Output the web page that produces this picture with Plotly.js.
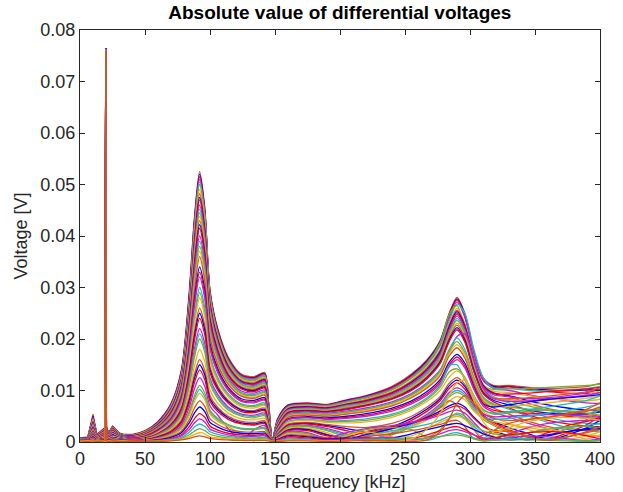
<!DOCTYPE html>
<html>
<head>
<meta charset="utf-8">
<script src="https://cdn.plot.ly/plotly-3.0.1.min.js"></script>
<style>html,body{margin:0;padding:0;background:#fff;}#chart{width:623px;height:492px;}</style>
</head>
<body>
<div id="chart"></div>
<script>
// Frequency grid [kHz]
const freq = [0,6,10,13,19.3, 19.8,20.3,22,25,30, 40,50,60,70,78, 84,88,92,96,100, 106,114,124,134,142, 145,148,152,160,175, 190,205,220,240,255, 267,277,284,290,296, 303,310,318,330,345, 360,375,390,400];

// Absolute differential voltages, values in mV
const c01 = [0.8,1.0,5.4,1.5,2.8, 76.5,3.0,1.8,3.1,1.8, 1.5,2.2,4.0,7.5,14.0, 29.0,43.5,52.5,45.5,29.5, 22.0,16.5,13.2,12.7,13.5, 8.0,0.5,4.5,7.2,7.6, 7.3,8.2,9.0,10.8,13.2, 16.0,19.7,25.0,28.1,25.0, 17.5,12.5,11.0,11.0,10.6, 10.4,10.5,10.8,11.4];
const d01 = [0.7,0.9,5.0,1.4,2.7, 76.2,2.9,1.7,3.0,1.7, 1.4,2.1,3.9,7.3,13.8, 28.5,43.0,52.0,45.0,29.2, 21.7,16.2,13.0,12.5,13.3, 7.7,0.4,4.4,7.1,7.5, 7.2,8.1,8.9,10.6,13.0, 15.8,19.5,24.8,27.8,24.8, 17.3,12.2,10.8,10.8,10.4, 10.1,10.0,10.1,10.2];
const c02 = [0.7,0.9,4.8,1.4,2.6, 76.0,2.8,1.7,2.9,1.7, 1.4,2.1,3.8,7.2,13.5, 28.0,42.5,51.5,44.5,29.0, 21.5,16.0,12.9,12.4,13.2, 7.5,0.4,4.2,7.0,7.4, 7.2,8.0,8.8,10.5,12.8, 15.5,19.3,24.6,27.6,24.4, 17.0,12.0,10.6,10.7,10.2, 9.8,9.5,9.4,9.6];
const d02 = [0.8,0.9,4.6,1.3,2.6, 74.0,2.8,1.6,2.9,1.7, 1.3,2.0,3.7,7.1,13.3, 27.5,42.0,51.0,44.2,28.7, 21.2,15.8,12.7,12.2,13.0, 7.3,0.5,4.1,6.9,7.3, 7.1,7.9,8.7,10.3,12.6, 15.2,18.9,24.0,27.2,24.2, 17.2,12.2,10.4,10.0,9.2, 8.5,8.0,7.6,7.5];
const c03 = [0.8,0.9,4.5,1.3,2.5, 75.0,2.7,1.6,2.8,1.6, 1.3,2.0,3.6,7.0,13.0, 27.0,41.5,50.5,44.0,28.5, 21.0,15.7,12.6,12.1,12.9, 7.2,0.6,4.0,6.8,7.2, 7.0,7.8,8.6,10.2,12.4, 15.0,18.6,23.5,26.8,25.0, 18.0,12.6,10.5,10.4,10.0, 9.9,10.1,10.4,10.8];
const d03 = [0.6,0.8,4.4,1.3,2.5, 76.4,2.7,1.6,2.8,1.6, 1.3,2.0,3.6,6.9,12.9, 26.7,41.0,50.0,43.5,28.2, 20.8,15.5,12.4,11.9,12.7, 7.1,0.3,3.9,6.7,7.1, 6.9,7.7,8.5,10.1,12.5, 15.3,19.2,24.8,26.5,22.0, 15.2,11.0,10.2,10.3,10.4, 10.6,10.8,11.0,11.2];
const c04 = [0.6,0.8,4.2,1.2,2.4, 76.3,2.6,1.5,2.7,1.5, 1.2,1.9,3.5,6.7,12.6, 26.2,40.0,49.0,42.5,27.5, 20.4,15.2,12.2,11.7,12.5, 7.0,0.3,3.8,6.6,7.0, 6.8,7.5,8.3,9.8,12.0, 14.6,18.0,23.0,26.0,23.0, 16.2,11.3,9.9,9.6,9.0, 8.5,8.2,8.0,8.3];
const d04 = [0.7,0.8,4.0,1.2,2.4, 68.0,2.5,1.5,2.7,1.5, 1.2,1.9,3.5,6.6,12.4, 25.8,39.4,48.2,41.8,27.1, 20.1,15.0,12.0,11.5,12.3, 6.9,0.4,3.7,6.5,6.9, 6.7,7.4,8.2,9.7,11.8, 14.4,17.8,22.7,25.6,22.8, 16.0,11.1,9.6,8.8,7.5, 6.5,5.8,5.3,5.0];
const c05 = [0.7,0.8,3.9,1.2,2.3, 60.0,2.5,1.5,2.6,1.5, 1.2,1.8,3.4,6.5,12.2, 25.4,38.8,47.5,41.2,26.7, 19.8,14.7,11.8,11.3,12.1, 6.8,0.5,3.6,6.4,6.8, 6.6,7.3,8.0,9.5,11.6, 14.1,17.5,22.4,25.3,22.5, 15.8,11.0,9.5,9.0,8.0, 7.2,6.6,6.2,6.0];
const d05 = [0.5,0.7,3.8,1.1,2.3, 76.5,2.4,1.4,2.6,1.4, 1.1,1.8,3.3,6.4,12.0, 25.0,38.3,47.0,40.6,26.3, 19.5,14.5,11.6,11.2,11.9, 6.6,0.2,3.5,6.3,6.7, 6.5,7.2,7.9,9.4,11.4, 13.9,17.2,22.0,24.9,22.2, 15.5,10.8,9.4,9.3,9.5, 9.8,10.0,10.3,10.6];
const c06 = [0.5,0.7,3.6,1.1,2.2, 76.4,2.4,1.4,2.5,1.4, 1.1,1.7,3.2,6.3,11.8, 24.6,37.6,46.0,39.9,25.9, 19.2,14.3,11.5,11.0,11.7, 6.5,0.2,3.4,6.2,6.6, 6.4,7.1,7.7,9.2,11.2, 13.7,16.9,21.6,24.5,21.8, 15.3,10.6,9.2,8.8,8.4, 8.6,9.0,9.6,10.2];
const d06 = [0.6,0.7,3.4,1.0,2.1, 58.0,2.3,1.4,2.4,1.4, 1.0,1.7,3.2,6.1,11.6, 24.2,36.9,45.2,39.2,25.4, 18.9,14.0,11.3,10.8,11.5, 6.4,0.4,3.3,6.1,6.5, 6.3,7.0,7.6,9.0,11.0, 13.4,16.6,21.2,24.0,21.4, 15.0,10.4,8.8,7.6,6.0, 4.8,4.0,3.6,3.5];
const c07 = [0.6,0.7,3.3,1.0,2.0, 50.0,2.3,1.3,2.4,1.4, 1.0,1.6,3.1,6.0,11.4, 23.8,36.3,44.5,38.6,25.0, 18.6,13.8,11.1,10.6,11.3, 6.3,0.4,3.2,6.0,6.4, 6.2,6.8,7.5,8.9,10.8, 13.2,16.3,20.9,23.6,21.0, 14.7,10.2,8.7,8.0,7.0, 6.2,5.4,4.8,4.4];
const d07 = [0.5,0.6,3.1,1.0,2.0, 76.3,2.2,1.3,2.3,1.3, 1.0,1.6,3.0,5.9,11.2, 23.4,35.7,43.8,38.0,24.6, 18.3,13.6,10.9,10.4,11.1, 6.2,0.3,3.1,5.9,6.3, 6.1,6.7,7.3,8.7,10.6, 12.9,16.0,20.5,23.1,20.6, 14.5,10.0,8.6,8.2,8.0, 8.2,8.6,9.2,10.0];
const c08 = [0.5,0.6,3.0,1.0,1.9, 76.5,2.2,1.3,2.3,1.3, 1.0,1.5,3.0,5.8,11.0, 23.0,35.0,43.0,37.3,24.2, 18.0,13.3,10.7,10.2,10.9, 6.1,0.3,3.0,5.8,6.2, 6.0,6.6,7.2,8.6,10.4, 12.7,15.8,20.2,22.7,20.2, 14.2,9.8,8.5,8.4,8.6, 8.9,9.3,9.8,10.5];
const d08 = [0.6,0.7,2.9,0.9,1.8, 42.0,2.1,1.2,2.2,1.3, 0.9,1.5,2.9,5.7,10.8, 22.6,34.4,42.2,36.6,23.7, 17.6,13.0,10.5,10.0,10.7, 6.0,0.5,2.9,5.7,6.1, 5.9,6.4,7.1,8.4,10.2, 12.5,15.5,19.8,22.2,19.8, 13.9,9.6,8.1,7.2,6.2, 5.6,5.4,5.5,5.8];
const c09 = [0.6,0.7,2.8,0.9,1.8, 45.0,2.1,1.2,2.2,1.3, 0.9,1.5,2.9,5.6,10.6, 22.2,33.8,41.5,36.0,23.3, 17.3,12.8,10.3,9.8,10.5, 5.9,0.5,2.8,5.6,6.0, 5.8,6.3,7.0,8.3,10.0, 12.3,15.2,19.5,21.8,19.4, 13.6,9.4,7.8,6.6,5.2, 4.2,3.5,3.1,3.0];
const c10 = [0.5,0.6,2.6,0.9,1.7, 70.0,2.0,1.2,2.1,1.2, 0.9,1.4,2.8,5.4,10.2, 21.4,32.6,40.0,34.7,22.5, 16.7,12.4,9.9,9.5,10.1, 5.7,0.2,2.6,5.4,5.8, 5.6,6.0,6.6,7.8,9.4, 11.5,14.0,17.5,20.5,21.0, 16.0,10.5,8.4,7.9,8.0, 8.3,8.7,9.1,9.6];
const d09 = [0.5,0.6,2.5,0.8,1.6, 76.5,1.9,1.1,2.0,1.2, 0.8,1.3,2.7,5.2,10.0, 20.8,31.8,39.0,33.8,21.9, 16.3,12.1,9.6,9.2,9.8, 5.5,0.3,2.5,5.2,5.6, 5.4,5.8,6.4,7.6,9.2, 11.3,13.9,18.0,20.2,18.0, 12.6,8.8,7.4,6.4,5.0, 3.8,2.8,2.2,2.0];
const c11 = [0.6,0.7,2.4,0.8,1.6, 35.0,1.9,1.1,2.0,1.2, 0.8,1.3,2.6,5.1,9.7, 20.3,31.0,38.0,33.0,21.4, 15.9,11.8,9.4,9.0,9.6, 5.4,0.4,2.5,5.1,5.5, 5.3,5.7,6.3,7.5,9.1, 11.1,13.7,17.7,19.5,17.4, 12.2,8.5,7.2,6.8,6.4, 6.2,6.0,6.1,6.4];
const d10 = [0.6,0.6,2.3,0.8,1.5, 52.0,1.8,1.1,1.9,1.1, 0.8,1.2,2.5,4.9,9.4, 19.8,30.2,37.0,32.1,20.8, 15.4,11.5,9.1,8.7,9.3, 5.2,0.4,2.4,4.9,5.3, 5.1,5.5,6.1,7.2,8.8, 10.8,13.3,17.2,18.9,16.9, 11.8,8.2,7.0,6.9,7.2, 7.6,8.0,8.5,9.0];
const c12 = [0.5,0.6,2.2,0.8,1.5, 76.2,1.8,1.1,1.9,1.1, 0.8,1.2,2.5,4.8,9.2, 19.3,29.4,36.0,31.2,20.2, 15.0,11.2,8.9,8.5,9.1, 5.1,0.3,2.3,4.8,5.2, 5.0,5.4,5.9,7.0,8.6, 10.5,12.9,16.7,18.3,16.3, 11.4,7.9,6.6,5.4,4.0, 3.0,2.4,2.2,2.4];
const c13 = [0.6,0.6,2.0,0.7,1.4, 55.0,1.7,1.0,1.8,1.1, 0.7,1.1,2.3,4.5,8.7, 18.2,27.8,34.0,29.5,19.1, 14.2,10.6,8.4,8.1,8.6, 4.8,0.5,2.1,4.5,4.9, 4.7,5.0,5.5,6.6,8.0, 9.8,12.1,15.5,17.0,15.3, 10.8,7.5,6.8,7.2,7.8, 8.3,8.6,8.9,9.2];
const d11 = [0.5,0.6,2.0,0.7,1.4, 76.4,1.6,1.0,1.7,1.0, 0.7,1.1,2.2,4.4,8.4, 17.6,27.0,33.0,28.6,18.5, 13.8,10.3,8.1,7.8,8.3, 4.6,0.3,2.0,4.4,4.8, 4.5,4.8,5.2,6.3,7.7, 9.4,11.7,15.0,16.5,14.8, 10.5,7.3,6.2,5.8,5.6, 5.4,5.0,4.6,4.2];
const c14 = [0.4,0.5,1.9,0.7,1.3, 76.5,1.6,1.0,1.7,1.0, 0.7,1.0,2.1,4.3,8.2, 17.1,26.2,32.0,27.8,18.0, 13.4,10.0,7.9,7.6,8.1, 4.5,0.2,2.0,4.3,4.7, 4.4,4.6,5.0,6.0,7.4, 9.1,11.3,14.6,16.0,14.4, 10.2,7.0,5.8,4.8,3.6, 2.6,1.8,1.3,1.0];
const c15 = [0.5,0.6,1.8,0.6,1.2, 40.0,1.5,0.9,1.6,1.0, 0.6,0.9,2.0,4.0,7.7, 16.0,24.5,30.0,26.0,16.8, 12.5,9.4,7.4,7.1,7.6, 4.2,0.4,1.8,4.0,4.4, 4.1,4.2,4.5,5.4,6.8, 8.6,11.0,14.8,15.0,12.0, 8.5,6.2,5.6,5.9,6.3, 6.8,7.4,8.1,8.9];
const d12 = [0.5,0.5,1.7,0.6,1.2, 36.0,1.4,0.9,1.5,0.9, 0.6,0.9,1.9,3.8,7.4, 15.5,23.7,29.0,25.1,16.3, 12.1,9.1,7.2,6.9,7.3, 4.1,0.4,1.7,3.9,4.3, 4.0,4.0,4.2,5.1,6.5, 8.3,10.6,13.6,14.2,12.6, 9.0,6.4,5.4,5.6,6.0, 6.2,6.0,5.6,5.2];
const c16 = [0.4,0.5,1.6,0.6,1.1, 76.0,1.4,0.9,1.5,0.9, 0.6,0.8,1.9,3.7,7.2, 15.0,22.9,28.0,24.3,15.7, 11.7,8.8,6.9,6.6,7.1, 4.0,0.3,1.6,3.8,4.2, 3.8,3.7,3.9,4.8,6.2, 7.9,10.0,12.6,13.8,12.4, 8.8,6.0,4.8,3.6,2.4, 1.4,0.6,1.2,2.0];
const c17 = [0.5,0.5,1.5,0.6,1.0, 30.0,1.3,0.8,1.4,0.9, 0.5,0.8,1.7,3.5,6.7, 13.9,21.3,26.0,22.6,14.6, 10.9,8.1,6.4,6.1,6.6, 3.7,0.5,1.5,3.5,3.8, 3.4,3.0,2.8,3.6,5.0, 6.8,8.8,11.4,12.5,11.2, 8.0,5.6,4.6,4.2,4.4, 4.8,5.4,6.0,6.8];
const d13 = [0.4,0.5,1.5,0.5,1.0, 76.2,1.2,0.8,1.4,0.8, 0.5,0.7,1.6,3.3,6.4, 13.4,20.5,25.0,21.7,14.0, 10.4,7.8,6.2,5.9,6.3, 3.6,0.2,1.4,3.3,3.6, 3.2,2.6,2.0,3.0,4.6, 6.4,8.4,10.9,12.0,10.8, 7.6,5.2,4.0,2.8,1.6, 0.4,1.4,2.8,4.2];
const c18 = [0.4,0.4,1.4,0.5,1.0, 76.4,1.2,0.8,1.3,0.8, 0.5,0.7,1.6,3.2,6.2, 12.8,19.7,24.0,20.8,13.5, 10.0,7.5,5.9,5.7,6.1, 3.4,0.2,1.4,3.2,3.5, 3.0,2.2,1.5,2.6,4.2, 6.0,8.0,10.4,11.5,10.3, 7.3,5.0,3.8,2.4,1.0, 0.6,1.8,3.4,5.0];
const c19 = [0.5,0.5,1.3,0.5,0.9, 48.0,1.1,0.7,1.2,0.8, 0.5,0.6,1.5,3.0,5.7, 11.8,18.0,22.0,19.1,12.4, 9.2,6.8,5.4,5.2,5.6, 3.1,0.4,1.3,3.0,3.2, 2.6,1.6,0.4,1.8,3.6, 5.4,7.4,9.6,10.5,9.6, 7.0,5.4,4.9,5.0,5.2, 5.3,5.2,5.0,4.8];
const d14 = [0.5,0.4,1.2,0.5,0.9, 44.0,1.0,0.7,1.1,0.7, 0.4,0.6,1.4,2.8,5.4, 11.2,17.2,21.0,18.2,11.8, 8.8,6.5,5.2,5.0,5.3, 3.0,0.4,1.2,2.9,3.1, 2.4,1.3,0.6,1.6,3.3, 5.1,7.1,9.2,10.0,9.2, 6.6,4.9,4.4,4.6,5.0, 5.6,6.2,6.8,7.4];
const c20 = [0.4,0.4,1.2,0.5,0.8, 76.5,1.0,0.7,1.1,0.7, 0.4,0.6,1.3,2.7,5.2, 10.7,16.4,20.0,17.4,11.3, 8.4,6.2,5.0,4.7,5.1, 2.8,0.2,1.2,2.8,3.0, 2.2,1.0,0.3,1.4,3.0, 4.8,6.8,8.8,9.6,8.8, 6.2,4.4,3.2,1.8,0.5, 1.2,2.6,4.4,6.6];
const c21 = [0.5,0.4,1.1,0.4,0.8, 26.0,0.9,0.6,1.0,0.7, 0.4,0.5,1.2,2.4,4.7, 9.6,14.7,18.0,15.6,10.1, 7.5,5.6,4.5,4.3,4.6, 2.6,0.4,1.1,2.6,2.7, 1.8,0.5,1.2,2.0,3.0, 4.3,6.0,7.9,8.8,8.2, 6.0,4.6,4.0,3.4,2.8, 2.2,1.7,1.4,1.2];
const c22 = [0.4,0.4,1.0,0.4,0.7, 76.3,0.8,0.6,0.9,0.6, 0.4,0.5,1.1,2.2,4.2, 8.6,13.1,16.0,13.9,9.0, 6.7,5.0,4.0,3.8,4.1, 2.3,0.2,1.0,2.4,2.5, 1.5,0.3,1.6,2.8,3.8, 5.0,6.6,8.0,7.2,5.0, 2.4,0.6,2.2,3.6,4.4, 4.8,5.4,6.4,7.6];
const d15 = [0.4,0.4,1.0,0.4,0.7, 76.5,0.8,0.5,0.9,0.6, 0.3,0.4,1.0,2.0,3.9, 8.0,12.3,15.0,13.0,8.4, 6.3,4.7,3.7,3.5,3.8, 2.1,0.2,1.0,2.3,2.4, 1.4,0.6,1.4,2.6,3.6, 4.8,6.0,7.0,7.5,6.8, 4.8,3.2,2.2,1.2,0.4, 1.2,2.0,2.6,3.0];
const c23 = [0.4,0.4,0.9,0.4,0.7, 38.0,0.8,0.5,0.8,0.6, 0.3,0.4,0.9,1.9,3.7, 7.5,11.5,14.0,12.1,7.9, 5.9,4.4,3.5,3.3,3.6, 2.0,0.4,0.9,2.2,2.2, 1.2,1.0,2.0,3.0,3.8, 4.6,5.6,6.6,7.0,6.4, 4.6,3.0,2.0,0.8,0.6, 1.8,3.2,4.0,4.6];
const c24 = [0.3,0.3,0.8,0.3,0.6, 76.5,0.7,0.5,0.8,0.5, 0.3,0.4,0.8,1.7,3.3, 6.7,10.3,12.5,10.8,7.0, 5.2,2.6,0.3,2.4,3.2, 1.8,0.2,0.8,2.0,1.8, 0.8,1.8,2.6,3.2,3.8, 4.4,5.2,5.9,6.2,5.6, 3.8,2.0,0.6,1.6,2.8, 3.6,4.0,4.2,4.3];
const d16 = [0.3,0.3,0.7,0.3,0.5, 30.0,0.6,0.4,0.7,0.4, 0.2,0.3,0.6,1.4,2.7, 5.5,8.4,10.2,8.8,5.8, 4.3,3.2,2.5,2.4,2.6, 1.4,0.3,0.6,1.7,1.5, 0.6,0.2,1.2,2.2,2.8, 3.4,4.2,5.0,5.3,4.6, 3.0,1.6,0.4,1.0,1.8, 2.4,2.8,3.2,3.6];
const c25 = [0.4,0.3,0.7,0.3,0.6, 32.0,0.6,0.4,0.7,0.5, 0.3,0.3,0.7,1.5,2.9, 5.9,9.0,11.0,9.5,6.2, 4.6,3.4,2.7,2.6,2.8, 1.6,0.3,0.7,1.8,1.6, 0.4,1.4,2.4,2.8,2.4, 1.0,2.4,4.6,5.6,5.0, 3.4,2.2,1.6,1.2,1.8, 2.6,3.0,3.0,2.8];
const c26 = [0.3,0.3,0.6,0.3,0.5, 76.0,0.6,0.4,0.6,0.4, 0.2,0.3,0.6,1.3,2.5, 5.1,7.8,9.5,8.2,5.4, 4.0,3.0,1.6,0.2,1.8, 1.2,0.2,0.6,1.6,1.4, 0.2,1.2,2.0,1.0,1.2, 2.6,3.8,4.6,5.0,4.4, 2.6,0.8,1.4,2.4,3.0, 2.6,1.6,0.6,1.4];
const c27 = [0.4,0.3,0.6,0.3,0.5, 22.0,0.5,0.4,0.6,0.4, 0.2,0.3,0.5,1.1,2.1, 4.3,6.6,8.0,6.9,4.5, 3.4,2.5,2.0,1.9,2.0, 1.2,0.3,0.5,1.4,1.2, 0.8,0.2,1.0,1.6,2.2, 2.8,3.4,4.0,4.2,3.0, 0.6,1.4,2.2,2.0,1.2, 0.4,1.0,1.8,2.4];
const c28 = [0.3,0.3,0.5,0.2,0.4, 76.5,0.5,0.3,0.5,0.4, 0.2,0.2,0.4,0.9,1.8, 3.7,5.6,6.8,5.9,3.8, 2.9,2.1,1.7,1.6,1.7, 1.0,0.2,0.5,1.2,1.0, 0.6,0.8,0.2,0.8,1.6, 2.4,3.0,3.4,3.6,3.2, 2.4,1.6,1.0,0.4,0.8, 1.4,2.0,2.4,2.6];
const c29 = [0.3,0.3,0.5,0.2,0.4, 28.0,0.4,0.3,0.4,0.3, 0.2,0.2,0.3,0.7,1.4, 3.0,4.5,5.5,4.8,3.1, 2.3,1.7,1.4,1.3,1.4, 0.8,0.3,0.4,1.0,0.8, 0.4,0.6,0.9,0.3,0.7, 1.4,2.2,2.8,3.0,2.4, 1.4,0.4,0.8,1.4,1.8, 2.0,1.8,1.2,0.6];
const c30 = [0.3,0.2,0.4,0.2,0.3, 76.4,0.4,0.3,0.4,0.3, 0.1,0.2,0.3,0.6,1.2, 2.4,3.7,4.5,3.9,2.5, 1.9,1.4,1.1,1.1,1.2, 0.7,0.2,0.3,0.8,0.6, 0.3,0.5,0.7,0.9,0.4, 0.8,1.6,2.2,2.4,2.0, 1.4,0.8,0.5,0.8,1.2, 1.0,0.6,0.3,0.6];
const c31 = [0.3,0.2,0.4,0.2,0.3, 20.0,0.3,0.2,0.3,0.3, 0.1,0.1,0.2,0.5,0.9, 1.9,2.9,3.5,3.0,2.0, 1.5,1.1,0.9,0.8,0.9, 0.5,0.2,0.2,0.6,0.5, 0.2,0.3,0.5,0.6,0.8, 0.3,1.0,1.6,1.8,1.4, 0.8,0.3,0.4,0.6,0.7, 0.6,0.4,0.2,0.3];
const c32 = [0.2,0.2,0.3,0.2,0.3, 76.3,0.3,0.2,0.3,0.2, 0.1,0.1,0.2,0.4,0.7, 1.4,2.1,2.6,2.2,1.5, 1.1,0.8,0.7,0.6,0.7, 0.4,0.1,0.2,0.4,0.4, 0.2,0.3,0.4,0.5,0.6, 0.8,1.1,1.3,1.4,1.1, 0.6,0.2,0.3,0.4,0.4, 0.3,0.2,0.1,0.2];
const c33 = [0.2,0.2,0.3,0.1,0.2, 16.0,0.2,0.2,0.2,0.2, 0.1,0.1,0.1,0.3,0.5, 1.0,1.5,1.8,1.6,1.0, 0.8,0.6,0.5,0.4,0.5, 0.3,0.1,0.1,0.3,0.3, 0.2,0.3,0.2,0.1,0.6, 2.5,5.5,9.0,11.5,12.0, 8.0,4.0,2.0,2.8,4.0, 4.6,4.8,4.6,4.2];
const c34 = [0.2,0.1,0.2,0.1,0.2, 76.0,0.2,0.1,0.2,0.1, 0.1,0.1,0.1,0.2,0.4, 0.7,1.0,1.2,1.0,0.7, 0.5,0.4,0.3,0.3,0.3, 0.2,0.1,0.1,0.2,0.2, 0.1,0.2,0.3,0.2,0.1, 0.4,2.0,4.5,7.5,9.0, 7.5,5.0,3.5,2.2,1.0, 0.3,1.0,2.0,3.0];

const curves = [c01,d01,c02,d02,c03,d03,c04,d04,c05,d05,c06,d06,c07,d07,c08,d08,c09,c10,d09,c11,d10,c12,c13,d11,c14,c15,d12,c16,c17,d13,c18,c19,d14,c20,c21,c22,d15,c23,c24,d16,c25,c26,c27,c28,c29,c30,c31,c32,c33,c34];
const palette = ['#d95319','#0000ff','#ff0000','#c020e0','#20b8c8','#77ac30','#edb120'];
const MV_TO_V = 1e-3;
const SPIKE_END = 10;   // first points (0-30 kHz, narrow spike) drawn straight
const SMOOTH_FROM = 8;  // remaining points drawn as a smooth curve

const traces = [];
curves.forEach((c, i) => {
  const col = palette[i % palette.length];
  const yv = c.map(v => v * MV_TO_V);
  traces.push({x: freq.slice(0, SPIKE_END), y: yv.slice(0, SPIKE_END), type: 'scatter', mode: 'lines',
    line: {color: col, width: 1.3}, hoverinfo: 'skip', showlegend: false});
  traces.push({x: freq.slice(SMOOTH_FROM), y: yv.slice(SMOOTH_FROM), type: 'scatter', mode: 'lines',
    line: {color: col, width: 1.3, shape: 'spline', smoothing: 0.8}, hoverinfo: 'skip', showlegend: false});
});

const FONT = 'Liberation Sans, Arial, Helvetica, sans-serif';
const axisCommon = {
  showline: true, linecolor: '#262626', linewidth: 1, mirror: 'ticks',
  ticks: 'inside', ticklen: 5, tickcolor: '#262626',
  showgrid: false, zeroline: false,
  tickfont: {family: FONT, size: 18, color: '#262626'}
};

const layout = {
  width: 623, height: 492,
  margin: {l: 80, r: 23, t: 30, b: 50},
  paper_bgcolor: '#ffffff', plot_bgcolor: '#ffffff',
  title: {text: '<b>Absolute value of differential voltages</b>', x: 0.5455, xanchor: 'center', y: 0.975, yanchor: 'middle',
          font: {family: FONT, size: 19, color: '#000000'}},
  xaxis: Object.assign({}, axisCommon, {range: [0, 400], dtick: 50, tick0: 0,
          title: {text: 'Frequency [kHz]', standoff: 9, font: {family: FONT, size: 18, color: '#262626'}}}),
  yaxis: Object.assign({}, axisCommon, {range: [0, 0.08], dtick: 0.01, tick0: 0,
          title: {text: 'Voltage [V]', standoff: 8, font: {family: FONT, size: 18, color: '#262626'}}}),
  showlegend: false
};

Plotly.newPlot('chart', traces, layout, {staticPlot: true, displayModeBar: false});
</script>
</body>
</html>
